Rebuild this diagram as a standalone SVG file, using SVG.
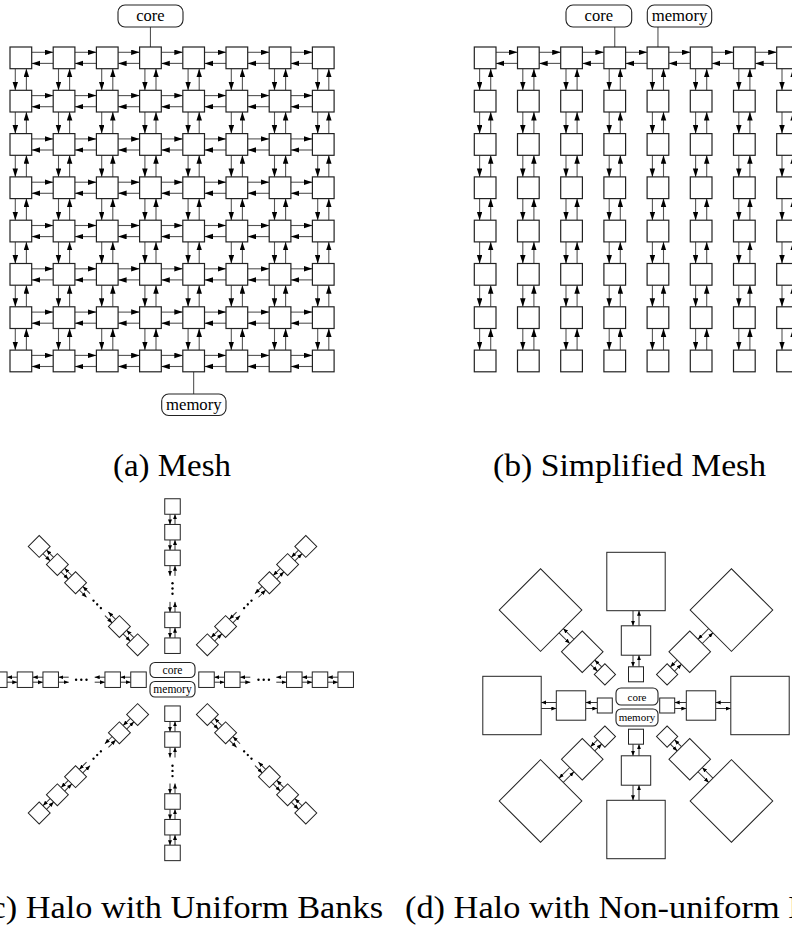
<svg xmlns="http://www.w3.org/2000/svg" xmlns:xlink="http://www.w3.org/1999/xlink" width="792" height="932" viewBox="0 0 792 932">
<style>
.bx{fill:#fff;stroke:#222;stroke-width:1.2}
.hb{fill:#fff;stroke:#222;stroke-width:1}
.rb{fill:#fff;stroke:#222;stroke-width:1.1}
.ln{stroke:#555;stroke-width:1.1;fill:none}
.ln2{stroke:#333;stroke-width:1;fill:none}
.cap{font-family:"Liberation Serif","Times New Roman",serif;font-size:31px;fill:#000}
.lb{font-family:"Liberation Serif","Times New Roman",serif;text-anchor:middle;fill:#000}
</style>
<defs>
<marker id="ah" markerUnits="userSpaceOnUse" markerWidth="9" markerHeight="6" refX="8.5" refY="2.75" orient="auto"><path d="M0,0 L8.5,2.75 L0,5.5 z" fill="#000"/></marker>
<marker id="as" markerUnits="userSpaceOnUse" markerWidth="6" markerHeight="5" refX="5" refY="2" orient="auto"><path d="M0,0 L5,2 L0,4 z" fill="#000"/></marker>
<g id="hp" class="ln"><line x1="21.7" y1="5.3" x2="43.2" y2="5.3" marker-end="url(#ah)"/><line x1="43.2" y1="16.4" x2="21.7" y2="16.4" marker-end="url(#ah)"/></g>
<g id="vp" class="ln"><line x1="5.3" y1="21.7" x2="5.3" y2="43.3" marker-end="url(#ah)"/><line x1="16.4" y1="43.3" x2="16.4" y2="21.7" marker-end="url(#ah)"/></g>
<g id="cl" class="ln2">
<line x1="52.05" y1="-2.5" x2="41.75" y2="-2.5" marker-end="url(#as)"/><line x1="41.75" y1="2.5" x2="52.05" y2="2.5" marker-end="url(#as)"/>
<line x1="77.8" y1="-2.5" x2="67.55" y2="-2.5" marker-end="url(#as)"/><line x1="67.55" y1="2.5" x2="77.8" y2="2.5" marker-end="url(#as)"/>
<line x1="114.05" y1="-2.5" x2="103.8" y2="-2.5" marker-end="url(#as)"/><line x1="103.8" y1="2.5" x2="114.05" y2="2.5" marker-end="url(#as)"/>
<line x1="139.75" y1="-2.5" x2="129.55" y2="-2.5" marker-end="url(#as)"/><line x1="129.55" y1="2.5" x2="139.75" y2="2.5" marker-end="url(#as)"/>
<line x1="165.45" y1="-2.5" x2="155.25" y2="-2.5" marker-end="url(#as)"/><line x1="155.25" y1="2.5" x2="165.45" y2="2.5" marker-end="url(#as)"/>
<circle cx="86" cy="0" r="1.2" fill="#000" stroke="none"/><circle cx="91.2" cy="0" r="1.2" fill="#000" stroke="none"/><circle cx="96.4" cy="0" r="1.2" fill="#000" stroke="none"/>
</g>
<g id="dls" class="ln2">
<line x1="50.3" y1="-3" x2="38.7" y2="-3" marker-end="url(#as)"/><line x1="38.7" y1="3" x2="50.3" y2="3" marker-end="url(#as)"/>
<line x1="94.8" y1="-3" x2="79.7" y2="-3" marker-end="url(#as)"/><line x1="79.7" y1="3" x2="94.8" y2="3" marker-end="url(#as)"/>
</g>
<g id="dld" class="ln2">
<line x1="61.3" y1="-3" x2="51.5" y2="-3" marker-end="url(#as)"/><line x1="51.5" y1="3" x2="61.3" y2="3" marker-end="url(#as)"/>
<line x1="105.8" y1="-3" x2="90.7" y2="-3" marker-end="url(#as)"/><line x1="90.7" y1="3" x2="105.8" y2="3" marker-end="url(#as)"/>
</g>
</defs>

<!-- (a) Mesh connectors -->
<g id="a-links">
<line class="ln" x1="150.45" y1="27" x2="150.45" y2="47"/>
<line class="ln" x1="193.65" y1="371.8" x2="193.65" y2="394"/>
<use href="#hp" x="10" y="47"/><use href="#hp" x="53.2" y="47"/><use href="#hp" x="96.4" y="47"/><use href="#hp" x="139.6" y="47"/><use href="#hp" x="182.8" y="47"/><use href="#hp" x="226" y="47"/><use href="#hp" x="269.2" y="47"/>
<use href="#hp" x="10" y="90.3"/><use href="#hp" x="53.2" y="90.3"/><use href="#hp" x="96.4" y="90.3"/><use href="#hp" x="139.6" y="90.3"/><use href="#hp" x="182.8" y="90.3"/><use href="#hp" x="226" y="90.3"/><use href="#hp" x="269.2" y="90.3"/>
<use href="#hp" x="10" y="133.6"/><use href="#hp" x="53.2" y="133.6"/><use href="#hp" x="96.4" y="133.6"/><use href="#hp" x="139.6" y="133.6"/><use href="#hp" x="182.8" y="133.6"/><use href="#hp" x="226" y="133.6"/><use href="#hp" x="269.2" y="133.6"/>
<use href="#hp" x="10" y="176.9"/><use href="#hp" x="53.2" y="176.9"/><use href="#hp" x="96.4" y="176.9"/><use href="#hp" x="139.6" y="176.9"/><use href="#hp" x="182.8" y="176.9"/><use href="#hp" x="226" y="176.9"/><use href="#hp" x="269.2" y="176.9"/>
<use href="#hp" x="10" y="220.2"/><use href="#hp" x="53.2" y="220.2"/><use href="#hp" x="96.4" y="220.2"/><use href="#hp" x="139.6" y="220.2"/><use href="#hp" x="182.8" y="220.2"/><use href="#hp" x="226" y="220.2"/><use href="#hp" x="269.2" y="220.2"/>
<use href="#hp" x="10" y="263.5"/><use href="#hp" x="53.2" y="263.5"/><use href="#hp" x="96.4" y="263.5"/><use href="#hp" x="139.6" y="263.5"/><use href="#hp" x="182.8" y="263.5"/><use href="#hp" x="226" y="263.5"/><use href="#hp" x="269.2" y="263.5"/>
<use href="#hp" x="10" y="306.8"/><use href="#hp" x="53.2" y="306.8"/><use href="#hp" x="96.4" y="306.8"/><use href="#hp" x="139.6" y="306.8"/><use href="#hp" x="182.8" y="306.8"/><use href="#hp" x="226" y="306.8"/><use href="#hp" x="269.2" y="306.8"/>
<use href="#hp" x="10" y="350.1"/><use href="#hp" x="53.2" y="350.1"/><use href="#hp" x="96.4" y="350.1"/><use href="#hp" x="139.6" y="350.1"/><use href="#hp" x="182.8" y="350.1"/><use href="#hp" x="226" y="350.1"/><use href="#hp" x="269.2" y="350.1"/>
<use href="#vp" x="10" y="47"/><use href="#vp" x="53.2" y="47"/><use href="#vp" x="96.4" y="47"/><use href="#vp" x="139.6" y="47"/><use href="#vp" x="182.8" y="47"/><use href="#vp" x="226" y="47"/><use href="#vp" x="269.2" y="47"/><use href="#vp" x="312.4" y="47"/>
<use href="#vp" x="10" y="90.3"/><use href="#vp" x="53.2" y="90.3"/><use href="#vp" x="96.4" y="90.3"/><use href="#vp" x="139.6" y="90.3"/><use href="#vp" x="182.8" y="90.3"/><use href="#vp" x="226" y="90.3"/><use href="#vp" x="269.2" y="90.3"/><use href="#vp" x="312.4" y="90.3"/>
<use href="#vp" x="10" y="133.6"/><use href="#vp" x="53.2" y="133.6"/><use href="#vp" x="96.4" y="133.6"/><use href="#vp" x="139.6" y="133.6"/><use href="#vp" x="182.8" y="133.6"/><use href="#vp" x="226" y="133.6"/><use href="#vp" x="269.2" y="133.6"/><use href="#vp" x="312.4" y="133.6"/>
<use href="#vp" x="10" y="176.9"/><use href="#vp" x="53.2" y="176.9"/><use href="#vp" x="96.4" y="176.9"/><use href="#vp" x="139.6" y="176.9"/><use href="#vp" x="182.8" y="176.9"/><use href="#vp" x="226" y="176.9"/><use href="#vp" x="269.2" y="176.9"/><use href="#vp" x="312.4" y="176.9"/>
<use href="#vp" x="10" y="220.2"/><use href="#vp" x="53.2" y="220.2"/><use href="#vp" x="96.4" y="220.2"/><use href="#vp" x="139.6" y="220.2"/><use href="#vp" x="182.8" y="220.2"/><use href="#vp" x="226" y="220.2"/><use href="#vp" x="269.2" y="220.2"/><use href="#vp" x="312.4" y="220.2"/>
<use href="#vp" x="10" y="263.5"/><use href="#vp" x="53.2" y="263.5"/><use href="#vp" x="96.4" y="263.5"/><use href="#vp" x="139.6" y="263.5"/><use href="#vp" x="182.8" y="263.5"/><use href="#vp" x="226" y="263.5"/><use href="#vp" x="269.2" y="263.5"/><use href="#vp" x="312.4" y="263.5"/>
<use href="#vp" x="10" y="306.8"/><use href="#vp" x="53.2" y="306.8"/><use href="#vp" x="96.4" y="306.8"/><use href="#vp" x="139.6" y="306.8"/><use href="#vp" x="182.8" y="306.8"/><use href="#vp" x="226" y="306.8"/><use href="#vp" x="269.2" y="306.8"/><use href="#vp" x="312.4" y="306.8"/>
</g>

<!-- (a) Mesh nodes -->
<g id="mesh-a">
<g id="a-core"><rect class="rb" x="118" y="5" width="65" height="22" rx="7"/><text class="lb" x="150.5" y="21" font-size="16.5">core</text></g>
<g id="a-memory"><rect class="rb" x="161.7" y="394" width="64.3" height="21.5" rx="7"/><text class="lb" x="193.8" y="409.5" font-size="16.5" textLength="55.6" lengthAdjust="spacingAndGlyphs">memory</text></g>
<g id="a-r0c0"><rect class="bx" x="10" y="47" width="21.7" height="21.7"/></g><g id="a-r0c1"><rect class="bx" x="53.2" y="47" width="21.7" height="21.7"/></g><g id="a-r0c2"><rect class="bx" x="96.4" y="47" width="21.7" height="21.7"/></g><g id="a-r0c3"><rect class="bx" x="139.6" y="47" width="21.7" height="21.7"/></g><g id="a-r0c4"><rect class="bx" x="182.8" y="47" width="21.7" height="21.7"/></g><g id="a-r0c5"><rect class="bx" x="226" y="47" width="21.7" height="21.7"/></g><g id="a-r0c6"><rect class="bx" x="269.2" y="47" width="21.7" height="21.7"/></g><g id="a-r0c7"><rect class="bx" x="312.4" y="47" width="21.7" height="21.7"/></g>
<g id="a-r1c0"><rect class="bx" x="10" y="90.3" width="21.7" height="21.7"/></g><g id="a-r1c1"><rect class="bx" x="53.2" y="90.3" width="21.7" height="21.7"/></g><g id="a-r1c2"><rect class="bx" x="96.4" y="90.3" width="21.7" height="21.7"/></g><g id="a-r1c3"><rect class="bx" x="139.6" y="90.3" width="21.7" height="21.7"/></g><g id="a-r1c4"><rect class="bx" x="182.8" y="90.3" width="21.7" height="21.7"/></g><g id="a-r1c5"><rect class="bx" x="226" y="90.3" width="21.7" height="21.7"/></g><g id="a-r1c6"><rect class="bx" x="269.2" y="90.3" width="21.7" height="21.7"/></g><g id="a-r1c7"><rect class="bx" x="312.4" y="90.3" width="21.7" height="21.7"/></g>
<g id="a-r2c0"><rect class="bx" x="10" y="133.6" width="21.7" height="21.7"/></g><g id="a-r2c1"><rect class="bx" x="53.2" y="133.6" width="21.7" height="21.7"/></g><g id="a-r2c2"><rect class="bx" x="96.4" y="133.6" width="21.7" height="21.7"/></g><g id="a-r2c3"><rect class="bx" x="139.6" y="133.6" width="21.7" height="21.7"/></g><g id="a-r2c4"><rect class="bx" x="182.8" y="133.6" width="21.7" height="21.7"/></g><g id="a-r2c5"><rect class="bx" x="226" y="133.6" width="21.7" height="21.7"/></g><g id="a-r2c6"><rect class="bx" x="269.2" y="133.6" width="21.7" height="21.7"/></g><g id="a-r2c7"><rect class="bx" x="312.4" y="133.6" width="21.7" height="21.7"/></g>
<g id="a-r3c0"><rect class="bx" x="10" y="176.9" width="21.7" height="21.7"/></g><g id="a-r3c1"><rect class="bx" x="53.2" y="176.9" width="21.7" height="21.7"/></g><g id="a-r3c2"><rect class="bx" x="96.4" y="176.9" width="21.7" height="21.7"/></g><g id="a-r3c3"><rect class="bx" x="139.6" y="176.9" width="21.7" height="21.7"/></g><g id="a-r3c4"><rect class="bx" x="182.8" y="176.9" width="21.7" height="21.7"/></g><g id="a-r3c5"><rect class="bx" x="226" y="176.9" width="21.7" height="21.7"/></g><g id="a-r3c6"><rect class="bx" x="269.2" y="176.9" width="21.7" height="21.7"/></g><g id="a-r3c7"><rect class="bx" x="312.4" y="176.9" width="21.7" height="21.7"/></g>
<g id="a-r4c0"><rect class="bx" x="10" y="220.2" width="21.7" height="21.7"/></g><g id="a-r4c1"><rect class="bx" x="53.2" y="220.2" width="21.7" height="21.7"/></g><g id="a-r4c2"><rect class="bx" x="96.4" y="220.2" width="21.7" height="21.7"/></g><g id="a-r4c3"><rect class="bx" x="139.6" y="220.2" width="21.7" height="21.7"/></g><g id="a-r4c4"><rect class="bx" x="182.8" y="220.2" width="21.7" height="21.7"/></g><g id="a-r4c5"><rect class="bx" x="226" y="220.2" width="21.7" height="21.7"/></g><g id="a-r4c6"><rect class="bx" x="269.2" y="220.2" width="21.7" height="21.7"/></g><g id="a-r4c7"><rect class="bx" x="312.4" y="220.2" width="21.7" height="21.7"/></g>
<g id="a-r5c0"><rect class="bx" x="10" y="263.5" width="21.7" height="21.7"/></g><g id="a-r5c1"><rect class="bx" x="53.2" y="263.5" width="21.7" height="21.7"/></g><g id="a-r5c2"><rect class="bx" x="96.4" y="263.5" width="21.7" height="21.7"/></g><g id="a-r5c3"><rect class="bx" x="139.6" y="263.5" width="21.7" height="21.7"/></g><g id="a-r5c4"><rect class="bx" x="182.8" y="263.5" width="21.7" height="21.7"/></g><g id="a-r5c5"><rect class="bx" x="226" y="263.5" width="21.7" height="21.7"/></g><g id="a-r5c6"><rect class="bx" x="269.2" y="263.5" width="21.7" height="21.7"/></g><g id="a-r5c7"><rect class="bx" x="312.4" y="263.5" width="21.7" height="21.7"/></g>
<g id="a-r6c0"><rect class="bx" x="10" y="306.8" width="21.7" height="21.7"/></g><g id="a-r6c1"><rect class="bx" x="53.2" y="306.8" width="21.7" height="21.7"/></g><g id="a-r6c2"><rect class="bx" x="96.4" y="306.8" width="21.7" height="21.7"/></g><g id="a-r6c3"><rect class="bx" x="139.6" y="306.8" width="21.7" height="21.7"/></g><g id="a-r6c4"><rect class="bx" x="182.8" y="306.8" width="21.7" height="21.7"/></g><g id="a-r6c5"><rect class="bx" x="226" y="306.8" width="21.7" height="21.7"/></g><g id="a-r6c6"><rect class="bx" x="269.2" y="306.8" width="21.7" height="21.7"/></g><g id="a-r6c7"><rect class="bx" x="312.4" y="306.8" width="21.7" height="21.7"/></g>
<g id="a-r7c0"><rect class="bx" x="10" y="350.1" width="21.7" height="21.7"/></g><g id="a-r7c1"><rect class="bx" x="53.2" y="350.1" width="21.7" height="21.7"/></g><g id="a-r7c2"><rect class="bx" x="96.4" y="350.1" width="21.7" height="21.7"/></g><g id="a-r7c3"><rect class="bx" x="139.6" y="350.1" width="21.7" height="21.7"/></g><g id="a-r7c4"><rect class="bx" x="182.8" y="350.1" width="21.7" height="21.7"/></g><g id="a-r7c5"><rect class="bx" x="226" y="350.1" width="21.7" height="21.7"/></g><g id="a-r7c6"><rect class="bx" x="269.2" y="350.1" width="21.7" height="21.7"/></g><g id="a-r7c7"><rect class="bx" x="312.4" y="350.1" width="21.7" height="21.7"/></g>
</g>

<!-- (b) Simplified mesh connectors -->
<g id="b-links">
<line class="ln" x1="614.75" y1="27" x2="614.75" y2="47"/>
<line class="ln" x1="657.95" y1="27" x2="657.95" y2="47"/>
<use href="#hp" x="474.3" y="47"/><use href="#hp" x="517.5" y="47"/><use href="#hp" x="560.7" y="47"/><use href="#hp" x="603.9" y="47"/><use href="#hp" x="647.1" y="47"/><use href="#hp" x="690.3" y="47"/><use href="#hp" x="733.5" y="47"/>
<use href="#vp" x="474.3" y="47"/><use href="#vp" x="517.5" y="47"/><use href="#vp" x="560.7" y="47"/><use href="#vp" x="603.9" y="47"/><use href="#vp" x="647.1" y="47"/><use href="#vp" x="690.3" y="47"/><use href="#vp" x="733.5" y="47"/><use href="#vp" x="776.7" y="47"/>
<use href="#vp" x="474.3" y="90.3"/><use href="#vp" x="517.5" y="90.3"/><use href="#vp" x="560.7" y="90.3"/><use href="#vp" x="603.9" y="90.3"/><use href="#vp" x="647.1" y="90.3"/><use href="#vp" x="690.3" y="90.3"/><use href="#vp" x="733.5" y="90.3"/><use href="#vp" x="776.7" y="90.3"/>
<use href="#vp" x="474.3" y="133.6"/><use href="#vp" x="517.5" y="133.6"/><use href="#vp" x="560.7" y="133.6"/><use href="#vp" x="603.9" y="133.6"/><use href="#vp" x="647.1" y="133.6"/><use href="#vp" x="690.3" y="133.6"/><use href="#vp" x="733.5" y="133.6"/><use href="#vp" x="776.7" y="133.6"/>
<use href="#vp" x="474.3" y="176.9"/><use href="#vp" x="517.5" y="176.9"/><use href="#vp" x="560.7" y="176.9"/><use href="#vp" x="603.9" y="176.9"/><use href="#vp" x="647.1" y="176.9"/><use href="#vp" x="690.3" y="176.9"/><use href="#vp" x="733.5" y="176.9"/><use href="#vp" x="776.7" y="176.9"/>
<use href="#vp" x="474.3" y="220.2"/><use href="#vp" x="517.5" y="220.2"/><use href="#vp" x="560.7" y="220.2"/><use href="#vp" x="603.9" y="220.2"/><use href="#vp" x="647.1" y="220.2"/><use href="#vp" x="690.3" y="220.2"/><use href="#vp" x="733.5" y="220.2"/><use href="#vp" x="776.7" y="220.2"/>
<use href="#vp" x="474.3" y="263.5"/><use href="#vp" x="517.5" y="263.5"/><use href="#vp" x="560.7" y="263.5"/><use href="#vp" x="603.9" y="263.5"/><use href="#vp" x="647.1" y="263.5"/><use href="#vp" x="690.3" y="263.5"/><use href="#vp" x="733.5" y="263.5"/><use href="#vp" x="776.7" y="263.5"/>
<use href="#vp" x="474.3" y="306.8"/><use href="#vp" x="517.5" y="306.8"/><use href="#vp" x="560.7" y="306.8"/><use href="#vp" x="603.9" y="306.8"/><use href="#vp" x="647.1" y="306.8"/><use href="#vp" x="690.3" y="306.8"/><use href="#vp" x="733.5" y="306.8"/><use href="#vp" x="776.7" y="306.8"/>
</g>

<!-- (b) Simplified mesh nodes -->
<g id="mesh-b">
<g id="b-core"><rect class="rb" x="566" y="5" width="65.7" height="22" rx="7"/><text class="lb" x="598.8" y="21" font-size="16.5">core</text></g>
<g id="b-memory"><rect class="rb" x="647.3" y="5" width="64.4" height="22" rx="7"/><text class="lb" x="679.5" y="20.5" font-size="16.5" textLength="55.6" lengthAdjust="spacingAndGlyphs">memory</text></g>
<g id="b-r0c0"><rect class="bx" x="474.3" y="47" width="21.7" height="21.7"/></g><g id="b-r0c1"><rect class="bx" x="517.5" y="47" width="21.7" height="21.7"/></g><g id="b-r0c2"><rect class="bx" x="560.7" y="47" width="21.7" height="21.7"/></g><g id="b-r0c3"><rect class="bx" x="603.9" y="47" width="21.7" height="21.7"/></g><g id="b-r0c4"><rect class="bx" x="647.1" y="47" width="21.7" height="21.7"/></g><g id="b-r0c5"><rect class="bx" x="690.3" y="47" width="21.7" height="21.7"/></g><g id="b-r0c6"><rect class="bx" x="733.5" y="47" width="21.7" height="21.7"/></g><g id="b-r0c7"><rect class="bx" x="776.7" y="47" width="21.7" height="21.7"/></g>
<g id="b-r1c0"><rect class="bx" x="474.3" y="90.3" width="21.7" height="21.7"/></g><g id="b-r1c1"><rect class="bx" x="517.5" y="90.3" width="21.7" height="21.7"/></g><g id="b-r1c2"><rect class="bx" x="560.7" y="90.3" width="21.7" height="21.7"/></g><g id="b-r1c3"><rect class="bx" x="603.9" y="90.3" width="21.7" height="21.7"/></g><g id="b-r1c4"><rect class="bx" x="647.1" y="90.3" width="21.7" height="21.7"/></g><g id="b-r1c5"><rect class="bx" x="690.3" y="90.3" width="21.7" height="21.7"/></g><g id="b-r1c6"><rect class="bx" x="733.5" y="90.3" width="21.7" height="21.7"/></g><g id="b-r1c7"><rect class="bx" x="776.7" y="90.3" width="21.7" height="21.7"/></g>
<g id="b-r2c0"><rect class="bx" x="474.3" y="133.6" width="21.7" height="21.7"/></g><g id="b-r2c1"><rect class="bx" x="517.5" y="133.6" width="21.7" height="21.7"/></g><g id="b-r2c2"><rect class="bx" x="560.7" y="133.6" width="21.7" height="21.7"/></g><g id="b-r2c3"><rect class="bx" x="603.9" y="133.6" width="21.7" height="21.7"/></g><g id="b-r2c4"><rect class="bx" x="647.1" y="133.6" width="21.7" height="21.7"/></g><g id="b-r2c5"><rect class="bx" x="690.3" y="133.6" width="21.7" height="21.7"/></g><g id="b-r2c6"><rect class="bx" x="733.5" y="133.6" width="21.7" height="21.7"/></g><g id="b-r2c7"><rect class="bx" x="776.7" y="133.6" width="21.7" height="21.7"/></g>
<g id="b-r3c0"><rect class="bx" x="474.3" y="176.9" width="21.7" height="21.7"/></g><g id="b-r3c1"><rect class="bx" x="517.5" y="176.9" width="21.7" height="21.7"/></g><g id="b-r3c2"><rect class="bx" x="560.7" y="176.9" width="21.7" height="21.7"/></g><g id="b-r3c3"><rect class="bx" x="603.9" y="176.9" width="21.7" height="21.7"/></g><g id="b-r3c4"><rect class="bx" x="647.1" y="176.9" width="21.7" height="21.7"/></g><g id="b-r3c5"><rect class="bx" x="690.3" y="176.9" width="21.7" height="21.7"/></g><g id="b-r3c6"><rect class="bx" x="733.5" y="176.9" width="21.7" height="21.7"/></g><g id="b-r3c7"><rect class="bx" x="776.7" y="176.9" width="21.7" height="21.7"/></g>
<g id="b-r4c0"><rect class="bx" x="474.3" y="220.2" width="21.7" height="21.7"/></g><g id="b-r4c1"><rect class="bx" x="517.5" y="220.2" width="21.7" height="21.7"/></g><g id="b-r4c2"><rect class="bx" x="560.7" y="220.2" width="21.7" height="21.7"/></g><g id="b-r4c3"><rect class="bx" x="603.9" y="220.2" width="21.7" height="21.7"/></g><g id="b-r4c4"><rect class="bx" x="647.1" y="220.2" width="21.7" height="21.7"/></g><g id="b-r4c5"><rect class="bx" x="690.3" y="220.2" width="21.7" height="21.7"/></g><g id="b-r4c6"><rect class="bx" x="733.5" y="220.2" width="21.7" height="21.7"/></g><g id="b-r4c7"><rect class="bx" x="776.7" y="220.2" width="21.7" height="21.7"/></g>
<g id="b-r5c0"><rect class="bx" x="474.3" y="263.5" width="21.7" height="21.7"/></g><g id="b-r5c1"><rect class="bx" x="517.5" y="263.5" width="21.7" height="21.7"/></g><g id="b-r5c2"><rect class="bx" x="560.7" y="263.5" width="21.7" height="21.7"/></g><g id="b-r5c3"><rect class="bx" x="603.9" y="263.5" width="21.7" height="21.7"/></g><g id="b-r5c4"><rect class="bx" x="647.1" y="263.5" width="21.7" height="21.7"/></g><g id="b-r5c5"><rect class="bx" x="690.3" y="263.5" width="21.7" height="21.7"/></g><g id="b-r5c6"><rect class="bx" x="733.5" y="263.5" width="21.7" height="21.7"/></g><g id="b-r5c7"><rect class="bx" x="776.7" y="263.5" width="21.7" height="21.7"/></g>
<g id="b-r6c0"><rect class="bx" x="474.3" y="306.8" width="21.7" height="21.7"/></g><g id="b-r6c1"><rect class="bx" x="517.5" y="306.8" width="21.7" height="21.7"/></g><g id="b-r6c2"><rect class="bx" x="560.7" y="306.8" width="21.7" height="21.7"/></g><g id="b-r6c3"><rect class="bx" x="603.9" y="306.8" width="21.7" height="21.7"/></g><g id="b-r6c4"><rect class="bx" x="647.1" y="306.8" width="21.7" height="21.7"/></g><g id="b-r6c5"><rect class="bx" x="690.3" y="306.8" width="21.7" height="21.7"/></g><g id="b-r6c6"><rect class="bx" x="733.5" y="306.8" width="21.7" height="21.7"/></g><g id="b-r6c7"><rect class="bx" x="776.7" y="306.8" width="21.7" height="21.7"/></g>
<g id="b-r7c0"><rect class="bx" x="474.3" y="350.1" width="21.7" height="21.7"/></g><g id="b-r7c1"><rect class="bx" x="517.5" y="350.1" width="21.7" height="21.7"/></g><g id="b-r7c2"><rect class="bx" x="560.7" y="350.1" width="21.7" height="21.7"/></g><g id="b-r7c3"><rect class="bx" x="603.9" y="350.1" width="21.7" height="21.7"/></g><g id="b-r7c4"><rect class="bx" x="647.1" y="350.1" width="21.7" height="21.7"/></g><g id="b-r7c5"><rect class="bx" x="690.3" y="350.1" width="21.7" height="21.7"/></g><g id="b-r7c6"><rect class="bx" x="733.5" y="350.1" width="21.7" height="21.7"/></g><g id="b-r7c7"><rect class="bx" x="776.7" y="350.1" width="21.7" height="21.7"/></g>
</g>

<!-- (c) Halo uniform: connectors -->
<g id="c-links">
<use href="#cl" transform="translate(172.5 679.7)"/>
<use href="#cl" transform="translate(172.5 679.7) rotate(45) translate(15.3 0)"/>
<use href="#cl" transform="translate(172.5 679.7) rotate(90)"/>
<use href="#cl" transform="translate(172.5 679.7) rotate(135) translate(15.3 0)"/>
<use href="#cl" transform="translate(172.5 679.7) rotate(180)"/>
<use href="#cl" transform="translate(172.5 679.7) rotate(225) translate(15.3 0)"/>
<use href="#cl" transform="translate(172.5 679.7) rotate(270)"/>
<use href="#cl" transform="translate(172.5 679.7) rotate(315) translate(15.3 0)"/>
</g>

<!-- (c) Halo uniform: nodes -->
<g id="halo-c">
<g id="c-core"><rect class="rb" x="150" y="662.5" width="45" height="15" rx="5"/><text class="lb" x="172.5" y="674" font-size="11.5">core</text></g>
<g id="c-memory"><rect class="rb" x="150" y="681.5" width="45" height="15.5" rx="5"/><text class="lb" x="172.5" y="693.2" font-size="11.5">memory</text></g>
<g transform="translate(172.5 679.7)">
<g id="c-e1"><rect class="hb" x="26.25" y="-7.75" width="15.5" height="15.5"/></g><g id="c-e2"><rect class="hb" x="52.05" y="-7.75" width="15.5" height="15.5"/></g><g id="c-e3"><rect class="hb" x="114.05" y="-7.75" width="15.5" height="15.5"/></g><g id="c-e4"><rect class="hb" x="139.75" y="-7.75" width="15.5" height="15.5"/></g><g id="c-e5"><rect class="hb" x="165.45" y="-7.75" width="15.5" height="15.5"/></g>
</g>
<g transform="translate(172.5 679.7) rotate(45) translate(15.3 0)">
<g id="c-se1"><rect class="hb" x="26.25" y="-7.75" width="15.5" height="15.5"/></g><g id="c-se2"><rect class="hb" x="52.05" y="-7.75" width="15.5" height="15.5"/></g><g id="c-se3"><rect class="hb" x="114.05" y="-7.75" width="15.5" height="15.5"/></g><g id="c-se4"><rect class="hb" x="139.75" y="-7.75" width="15.5" height="15.5"/></g><g id="c-se5"><rect class="hb" x="165.45" y="-7.75" width="15.5" height="15.5"/></g>
</g>
<g transform="translate(172.5 679.7) rotate(90)">
<g id="c-s1"><rect class="hb" x="26.25" y="-7.75" width="15.5" height="15.5"/></g><g id="c-s2"><rect class="hb" x="52.05" y="-7.75" width="15.5" height="15.5"/></g><g id="c-s3"><rect class="hb" x="114.05" y="-7.75" width="15.5" height="15.5"/></g><g id="c-s4"><rect class="hb" x="139.75" y="-7.75" width="15.5" height="15.5"/></g><g id="c-s5"><rect class="hb" x="165.45" y="-7.75" width="15.5" height="15.5"/></g>
</g>
<g transform="translate(172.5 679.7) rotate(135) translate(15.3 0)">
<g id="c-sw1"><rect class="hb" x="26.25" y="-7.75" width="15.5" height="15.5"/></g><g id="c-sw2"><rect class="hb" x="52.05" y="-7.75" width="15.5" height="15.5"/></g><g id="c-sw3"><rect class="hb" x="114.05" y="-7.75" width="15.5" height="15.5"/></g><g id="c-sw4"><rect class="hb" x="139.75" y="-7.75" width="15.5" height="15.5"/></g><g id="c-sw5"><rect class="hb" x="165.45" y="-7.75" width="15.5" height="15.5"/></g>
</g>
<g transform="translate(172.5 679.7) rotate(180)">
<g id="c-w1"><rect class="hb" x="26.25" y="-7.75" width="15.5" height="15.5"/></g><g id="c-w2"><rect class="hb" x="52.05" y="-7.75" width="15.5" height="15.5"/></g><g id="c-w3"><rect class="hb" x="114.05" y="-7.75" width="15.5" height="15.5"/></g><g id="c-w4"><rect class="hb" x="139.75" y="-7.75" width="15.5" height="15.5"/></g><g id="c-w5"><rect class="hb" x="165.45" y="-7.75" width="15.5" height="15.5"/></g>
</g>
<g transform="translate(172.5 679.7) rotate(225) translate(15.3 0)">
<g id="c-nw1"><rect class="hb" x="26.25" y="-7.75" width="15.5" height="15.5"/></g><g id="c-nw2"><rect class="hb" x="52.05" y="-7.75" width="15.5" height="15.5"/></g><g id="c-nw3"><rect class="hb" x="114.05" y="-7.75" width="15.5" height="15.5"/></g><g id="c-nw4"><rect class="hb" x="139.75" y="-7.75" width="15.5" height="15.5"/></g><g id="c-nw5"><rect class="hb" x="165.45" y="-7.75" width="15.5" height="15.5"/></g>
</g>
<g transform="translate(172.5 679.7) rotate(270)">
<g id="c-n1"><rect class="hb" x="26.25" y="-7.75" width="15.5" height="15.5"/></g><g id="c-n2"><rect class="hb" x="52.05" y="-7.75" width="15.5" height="15.5"/></g><g id="c-n3"><rect class="hb" x="114.05" y="-7.75" width="15.5" height="15.5"/></g><g id="c-n4"><rect class="hb" x="139.75" y="-7.75" width="15.5" height="15.5"/></g><g id="c-n5"><rect class="hb" x="165.45" y="-7.75" width="15.5" height="15.5"/></g>
</g>
<g transform="translate(172.5 679.7) rotate(315) translate(15.3 0)">
<g id="c-ne1"><rect class="hb" x="26.25" y="-7.75" width="15.5" height="15.5"/></g><g id="c-ne2"><rect class="hb" x="52.05" y="-7.75" width="15.5" height="15.5"/></g><g id="c-ne3"><rect class="hb" x="114.05" y="-7.75" width="15.5" height="15.5"/></g><g id="c-ne4"><rect class="hb" x="139.75" y="-7.75" width="15.5" height="15.5"/></g><g id="c-ne5"><rect class="hb" x="165.45" y="-7.75" width="15.5" height="15.5"/></g>
</g>
</g>

<!-- (d) Halo non-uniform: connectors -->
<g id="d-links">
<use href="#dls" transform="translate(636 705.5)"/>
<use href="#dld" transform="translate(636 705.5) rotate(45)"/>
<use href="#dls" transform="translate(636 705.5) rotate(90)"/>
<use href="#dld" transform="translate(636 705.5) rotate(135)"/>
<use href="#dls" transform="translate(636 705.5) rotate(180)"/>
<use href="#dld" transform="translate(636 705.5) rotate(225)"/>
<use href="#dls" transform="translate(636 705.5) rotate(270)"/>
<use href="#dld" transform="translate(636 705.5) rotate(315)"/>
</g>

<!-- (d) Halo non-uniform: nodes -->
<g id="halo-d">
<g id="d-core"><rect class="rb" x="616" y="688" width="42" height="17" rx="5"/><text class="lb" x="637" y="700.5" font-size="11">core</text></g>
<g id="d-memory"><rect class="rb" x="616" y="709" width="42" height="17" rx="5"/><text class="lb" x="637" y="721" font-size="11">memory</text></g>
<g transform="translate(636 705.5)">
<g id="d-e1"><rect class="hb" x="23.7" y="-7.5" width="15" height="15"/></g><g id="d-e2"><rect class="hb" x="50.3" y="-14.7" width="29.4" height="29.4"/></g><g id="d-e3"><rect class="hb" x="94.8" y="-29.2" width="58.4" height="58.4"/></g>
</g>
<g transform="translate(636 705.5) rotate(45)">
<g id="d-se1"><rect class="hb" x="36.5" y="-7.5" width="15" height="15"/></g><g id="d-se2"><rect class="hb" x="61.3" y="-14.7" width="29.4" height="29.4"/></g><g id="d-se3"><rect class="hb" x="105.8" y="-29.2" width="58.4" height="58.4"/></g>
</g>
<g transform="translate(636 705.5) rotate(90)">
<g id="d-s1"><rect class="hb" x="23.7" y="-7.5" width="15" height="15"/></g><g id="d-s2"><rect class="hb" x="50.3" y="-14.7" width="29.4" height="29.4"/></g><g id="d-s3"><rect class="hb" x="94.8" y="-29.2" width="58.4" height="58.4"/></g>
</g>
<g transform="translate(636 705.5) rotate(135)">
<g id="d-sw1"><rect class="hb" x="36.5" y="-7.5" width="15" height="15"/></g><g id="d-sw2"><rect class="hb" x="61.3" y="-14.7" width="29.4" height="29.4"/></g><g id="d-sw3"><rect class="hb" x="105.8" y="-29.2" width="58.4" height="58.4"/></g>
</g>
<g transform="translate(636 705.5) rotate(180)">
<g id="d-w1"><rect class="hb" x="23.7" y="-7.5" width="15" height="15"/></g><g id="d-w2"><rect class="hb" x="50.3" y="-14.7" width="29.4" height="29.4"/></g><g id="d-w3"><rect class="hb" x="94.8" y="-29.2" width="58.4" height="58.4"/></g>
</g>
<g transform="translate(636 705.5) rotate(225)">
<g id="d-nw1"><rect class="hb" x="36.5" y="-7.5" width="15" height="15"/></g><g id="d-nw2"><rect class="hb" x="61.3" y="-14.7" width="29.4" height="29.4"/></g><g id="d-nw3"><rect class="hb" x="105.8" y="-29.2" width="58.4" height="58.4"/></g>
</g>
<g transform="translate(636 705.5) rotate(270)">
<g id="d-n1"><rect class="hb" x="23.7" y="-7.5" width="15" height="15"/></g><g id="d-n2"><rect class="hb" x="50.3" y="-14.7" width="29.4" height="29.4"/></g><g id="d-n3"><rect class="hb" x="94.8" y="-29.2" width="58.4" height="58.4"/></g>
</g>
<g transform="translate(636 705.5) rotate(315)">
<g id="d-ne1"><rect class="hb" x="36.5" y="-7.5" width="15" height="15"/></g><g id="d-ne2"><rect class="hb" x="61.3" y="-14.7" width="29.4" height="29.4"/></g><g id="d-ne3"><rect class="hb" x="105.8" y="-29.2" width="58.4" height="58.4"/></g>
</g>
</g>

<!-- captions -->
<g id="captions">
<text class="cap" x="113" y="476" textLength="118" lengthAdjust="spacingAndGlyphs">(a) Mesh</text>
<text class="cap" x="493" y="476" textLength="273" lengthAdjust="spacingAndGlyphs">(b) Simplified Mesh</text>
<text class="cap" x="-21" y="918" textLength="404" lengthAdjust="spacingAndGlyphs">(c) Halo with Uniform Banks</text>
<text class="cap" x="405" y="918" textLength="469" lengthAdjust="spacingAndGlyphs">(d) Halo with Non-uniform Banks</text>
</g>
</svg>
